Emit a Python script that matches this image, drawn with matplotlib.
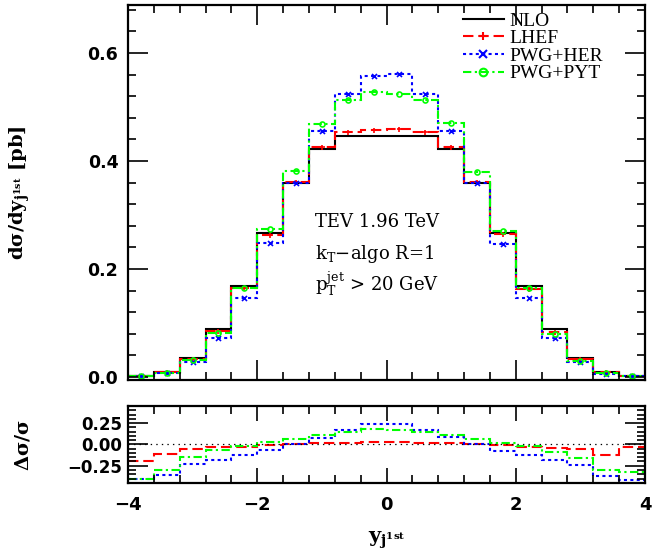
import numpy as np
import matplotlib
matplotlib.use("Agg")
import matplotlib.pyplot as plt
from matplotlib.lines import Line2D
from matplotlib.ticker import MultipleLocator, FixedLocator

plt.rcParams['lines.scale_dashes'] = False
plt.rcParams['mathtext.fontset'] = 'dejavuserif'
plt.rcParams['axes.unicode_minus'] = True

# ---- data ----
bin_edges = np.round(np.arange(-4.0, 4.0001, 0.4), 2)
series_names = ["NLO", "LHEF", "PWG+HER", "PWG+PYT"]

nlo = [0.002, 0.010, 0.036, 0.088, 0.168, 0.266, 0.359, 0.422, 0.446, 0.447,
       0.447, 0.446, 0.422, 0.359, 0.266, 0.168, 0.088, 0.036, 0.010, 0.002]
lhef = [0.0016, 0.0089, 0.034, 0.085, 0.164, 0.263, 0.362, 0.4265, 0.454, 0.457,
        0.459, 0.454, 0.4265, 0.362, 0.264, 0.163, 0.084, 0.034, 0.0087, 0.0019]
pwg_her = [0.0012, 0.0065, 0.0277, 0.0717, 0.1467, 0.2474, 0.360, 0.4555, 0.524, 0.557,
           0.562, 0.524, 0.456, 0.359, 0.2455, 0.1467, 0.0717, 0.0273, 0.0063, 0.0012]
pwg_pyt = [0.0012, 0.0070, 0.0309, 0.0823, 0.1646, 0.274, 0.382, 0.4685, 0.513, 0.528,
           0.524, 0.513, 0.470, 0.380, 0.271, 0.1646, 0.0805, 0.0305, 0.0069, 0.0014]

ratio_lhef = [-0.19, -0.108, -0.05, -0.03, -0.027, -0.012, 0.008, 0.019, 0.020, 0.027,
              0.027, 0.019, 0.019, 0.008, -0.008, -0.030, -0.046, -0.058, -0.127, -0.030]
ratio_her = [-0.41, -0.354, -0.23, -0.185, -0.127, -0.070, 0.008, 0.077, 0.173, 0.242,
             0.242, 0.173, 0.085, 0.000, -0.077, -0.127, -0.185, -0.242, -0.373, -0.415]
ratio_pyt = [-0.40, -0.296, -0.142, -0.065, -0.020, 0.030, 0.065, 0.115, 0.146, 0.180,
             0.173, 0.146, 0.108, 0.058, 0.019, -0.020, -0.085, -0.154, -0.300, -0.320]

main_yticks = [0.0, 0.2, 0.4, 0.6]
main_yticklabels = ["0.0", "0.2", "0.4", "0.6"]
ratio_yticks = [-0.25, 0.0, 0.25]
ratio_yticklabels = ["\u22120.25", "0.00", "0.25"]
xticks = [-4, -2, 0, 2, 4]
xticklabels = ["\u22124", "\u22122", "0", "2", "4"]

# ---- styles ----
RED, BLUE, GREEN = "#ff0000", "#0000ff", "#00ff00"
styles = {
    "NLO": dict(color="black", ls="-", marker=None),
    "LHEF": dict(color=RED, ls=(0, (7.5, 3.5)), marker="+"),
    "PWG+HER": dict(color=BLUE, ls=(0, (2.2, 2.4)), marker="x"),
    "PWG+PYT": dict(color=GREEN, ls=(0, (6, 2.5, 1.6, 2.5)), marker="o"),
}
LW = 1.5

fig = plt.figure(figsize=(6.56, 5.55), dpi=100)
W, H = 656, 555
ax = fig.add_axes([128 / W, 1 - 380 / H, 517 / W, 375 / H])
axr = fig.add_axes([128 / W, 1 - 483.3 / H, 517 / W, 77.3 / H])

centers = 0.5 * (bin_edges[:-1] + bin_edges[1:])
main_data = {"NLO": nlo, "LHEF": lhef, "PWG+HER": pwg_her, "PWG+PYT": pwg_pyt}
for name in series_names:
    st = styles[name]
    ax.stairs(main_data[name], bin_edges, color=st["color"], linestyle=st["ls"],
              linewidth=LW, baseline=None)
    if st["marker"]:
        mfc = "none" if st["marker"] == "o" else st["color"]
        ax.plot(centers, main_data[name], linestyle="none", marker=st["marker"],
                color=st["color"], markersize=3.6, markeredgewidth=1.2, mfc=mfc)

ratio_data = {"LHEF": ratio_lhef, "PWG+HER": ratio_her, "PWG+PYT": ratio_pyt}
axr.axhline(0.0, color="black", lw=0.9, ls=(0, (1, 3)))
for name in ["LHEF", "PWG+HER", "PWG+PYT"]:
    st = styles[name]
    axr.stairs(ratio_data[name], bin_edges, color=st["color"], linestyle=st["ls"],
               linewidth=LW, baseline=None)

# ---- axes formatting ----
tickfont = dict(family="DejaVu Sans", weight="bold")
for a in (ax, axr):
    a.set_xlim(-4, 4)
    for s in a.spines.values():
        s.set_linewidth(1.6)
    a.tick_params(which="both", direction="in", top=True, right=True, width=1.2)
    a.xaxis.set_major_locator(FixedLocator(xticks))
    a.xaxis.set_minor_locator(MultipleLocator(0.4))

ax.set_ylim(-0.0056, 0.689)
ax.yaxis.set_major_locator(FixedLocator(main_yticks))
ax.yaxis.set_minor_locator(MultipleLocator(0.04))
ax.set_yticklabels(main_yticklabels, fontsize=12.5, **tickfont)
ax.set_xticklabels([])
ax.tick_params(which="major", length=14.5, pad=7)
ax.tick_params(which="minor", length=5.8)

axr.set_ylim(-0.456, 0.45)
axr.yaxis.set_major_locator(FixedLocator(ratio_yticks))
axr.yaxis.set_minor_locator(MultipleLocator(0.05))
axr.set_yticklabels(ratio_yticklabels, fontsize=12, **tickfont)
axr.set_xticklabels(xticklabels, fontsize=13, **tickfont)
axr.tick_params(axis="y", which="major", length=14.5, pad=4.5)
axr.tick_params(axis="x", which="major", length=10.5, pad=9)
axr.tick_params(which="minor", length=5.5)

labfont = dict(family="DejaVu Serif", weight="bold")
ax.set_ylabel(r"$\mathbf{d\sigma/dy_{j^{1st}}}$ [pb]", fontsize=14, **labfont)
ax.yaxis.set_label_coords(-0.185, 0.5)
axr.set_ylabel(r"$\mathbf{\Delta\sigma/\sigma}$", fontsize=14, **labfont)
axr.yaxis.set_label_coords(-0.185, 0.5)
axr.set_xlabel(r"$\mathbf{y_{j^{1st}}}$", fontsize=15, **labfont)
axr.xaxis.set_label_coords(0.5, -0.6)

# annotation
annfont = dict(family="DejaVu Serif", fontsize=13, transform=ax.transAxes, va="baseline")
ax.text(0.362, 0.409, "TEV 1.96 TeV", **annfont)
ax.text(0.362, 0.323, r"$\mathrm{k_T}$" + "\u2212algo R=1", **annfont)
ax.text(0.362, 0.2355, r"$\mathrm{p_T^{jet}}$ > 20 GeV", **annfont)

# legend
handles = []
for name in series_names:
    st = styles[name]
    mfc = "none" if st["marker"] == "o" else st["color"]
    handles.append(Line2D([], [], color=st["color"], linestyle=st["ls"], linewidth=LW,
                          marker=st["marker"], markersize=5.5, markeredgewidth=1.5, mfc=mfc))
leg = ax.legend(handles, series_names, loc="upper left",
                bbox_to_anchor=((463 - 128) / 517, (380 - 12) / 375),
                frameon=False, borderpad=0, borderaxespad=0, numpoints=1,
                handlelength=2.1, handletextpad=0.28, labelspacing=0.0,
                prop=dict(family="Liberation Serif", size=14))

fig.savefig("out.png", dpi=100)
